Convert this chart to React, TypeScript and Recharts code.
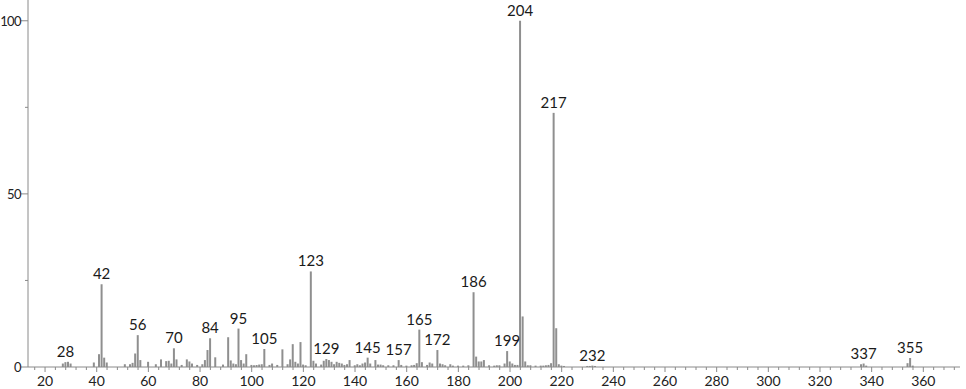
import { BarChart, Bar, XAxis, YAxis, LabelList } from 'recharts'

// m/z values and relative intensities
const mz = [
  27, 28, 29, 30, 39, 41, 42, 43, 44, 51, 53, 54, 55, 56, 57, 60, 63, 65, 67, 68,
  69, 70, 71, 73, 75, 76, 77, 79, 81, 82, 83, 84, 86, 89, 91, 92, 93, 94, 95, 96,
  97, 98, 100, 101, 102, 103, 104, 105, 107, 108, 110, 112, 114, 115, 116, 117, 118, 119, 120, 121,
  123, 124, 125, 127, 128, 129, 130, 131, 132, 133, 134, 135, 136, 137, 138, 140, 141, 142, 143, 144,
  145, 146, 148, 149, 150, 151, 153, 155, 157, 158, 160, 162, 163, 164, 165, 166, 168, 169, 170, 172,
  173, 174, 175, 177, 178, 180, 182, 184, 186, 187, 188, 189, 190, 192, 194, 195, 196, 198, 199, 200,
  201, 202, 203, 204, 205, 206, 207, 208, 210, 212, 213, 214, 215, 216, 217, 218, 219, 220, 221, 230,
  231, 232, 233, 336, 337, 338, 354, 355, 356,
]
const intensity = [
  1.0, 1.4, 1.5, 1.0, 1.3, 3.7, 23.9, 2.7, 1.3, 0.8, 0.8, 1.2, 3.9, 9.2, 2.0, 1.5, 0.8, 2.2, 1.7, 1.8,
  1.0, 5.4, 2.2, 0.6, 2.2, 1.6, 1.0, 0.6, 0.8, 2.0, 4.9, 8.3, 2.8, 0.7, 8.6, 1.9, 1.0, 0.8, 11.1, 2.0,
  1.0, 3.7, 0.6, 0.5, 0.6, 0.7, 0.8, 5.2, 0.6, 1.0, 0.6, 5.1, 0.8, 2.2, 6.6, 1.5, 1.0, 7.2, 0.7, 0.5,
  27.6, 1.8, 1.0, 0.7, 1.8, 2.3, 2.0, 1.5, 0.8, 1.5, 1.2, 1.0, 0.6, 0.8, 2.0, 0.5, 0.8, 0.5, 1.0, 1.3,
  2.7, 1.0, 2.0, 0.7, 0.7, 0.5, 0.5, 0.5, 2.0, 0.6, 0.4, 0.5, 0.6, 1.1, 10.8, 1.4, 0.6, 1.3, 1.0, 4.9,
  1.0, 0.8, 0.5, 0.8, 0.4, 0.4, 0.4, 0.5, 21.6, 3.0, 1.6, 1.6, 2.0, 0.5, 0.4, 0.5, 0.5, 1.0, 4.6, 1.6,
  1.0, 0.6, 0.6, 100, 14.6, 1.6, 0.5, 0.5, 0.4, 0.4, 0.4, 0.5, 0.6, 1.1, 73.4, 11.2, 0.8, 0.4, 0.3, 0.3,
  0.3, 0.4, 0.3, 0.8, 1.0, 0.4, 1.1, 2.6, 0.4,
]
const labeled = [28, 42, 56, 70, 84, 95, 105, 123, 129, 145, 157, 165, 172, 186, 199, 204, 217, 232, 337, 355]

const xTicks: number[] = []
for (let v = 16; v <= 372; v += 4) xTicks.push(v)
const yTicks = [0, 25, 50, 75, 100]

const data = mz.map((m, i) => ({ mz: m, value: intensity[i], tag: labeled.includes(m) ? String(m) : '' }))

const FONT = 'Lato, "DejaVu Sans", sans-serif'
const AXIS = '#8a8a8a'

const XTick = (props: any) => {
  const { x, y, payload } = props
  const major = payload.value % 20 === 0
  return (
    <g>
      <line x1={x} x2={x} y1={y} y2={y + (major ? 5 : 3)} stroke={AXIS} />
      {major && (
        <text x={x} y={y + 19} textAnchor="middle" fontSize={14} fontFamily={FONT} fill="#222">
          {payload.value}
        </text>
      )}
    </g>
  )
}

const YTick = (props: any) => {
  const { x, y, payload } = props
  const major = payload.value % 50 === 0
  return (
    <g>
      <line x1={x} x2={x - (major ? 7 : 3)} y1={y} y2={y} stroke={AXIS} />
      {major && (
        <text x={x - 7} y={y + 5} textAnchor="end" fontSize={13} letterSpacing={-0.6} fontFamily={FONT} fill="#222">
          {payload.value}
        </text>
      )}
    </g>
  )
}

const PeakLabel = (props: any) => {
  const { x, y, width, value } = props
  if (!value) return null
  return (
    <text x={x + width / 2} y={y - 5} textAnchor="middle" fontSize={15} fontFamily={FONT} fill="#1a1a1a">
      {value}
    </text>
  )
}

export default function App() {
  return (
    <div>
      <style>{'body{margin:0}'}</style>
      <BarChart width={966} height={389} data={data} margin={{ top: 0, right: 6, bottom: 0, left: 0 }} barSize={2}>
        <XAxis
          dataKey="mz"
          type="number"
          domain={[13.4, 374.2]}
          allowDataOverflow
          ticks={xTicks.filter(t => t > 13.4)}
          interval={0}
          height={22}
          stroke={AXIS}
          tickSize={0}
          tickMargin={0}
          tick={<XTick />}
        />
        <YAxis
          type="number"
          domain={[0, 106]}
          allowDataOverflow
          ticks={yTicks}
          interval={0}
          width={28}
          stroke={AXIS}
          tickSize={0}
          tickMargin={0}
          tick={<YTick />}
        />
        <Bar dataKey="value" fill="#8f8f8f" isAnimationActive={false}>
          <LabelList dataKey="tag" content={<PeakLabel />} />
        </Bar>
      </BarChart>
    </div>
  )
}
